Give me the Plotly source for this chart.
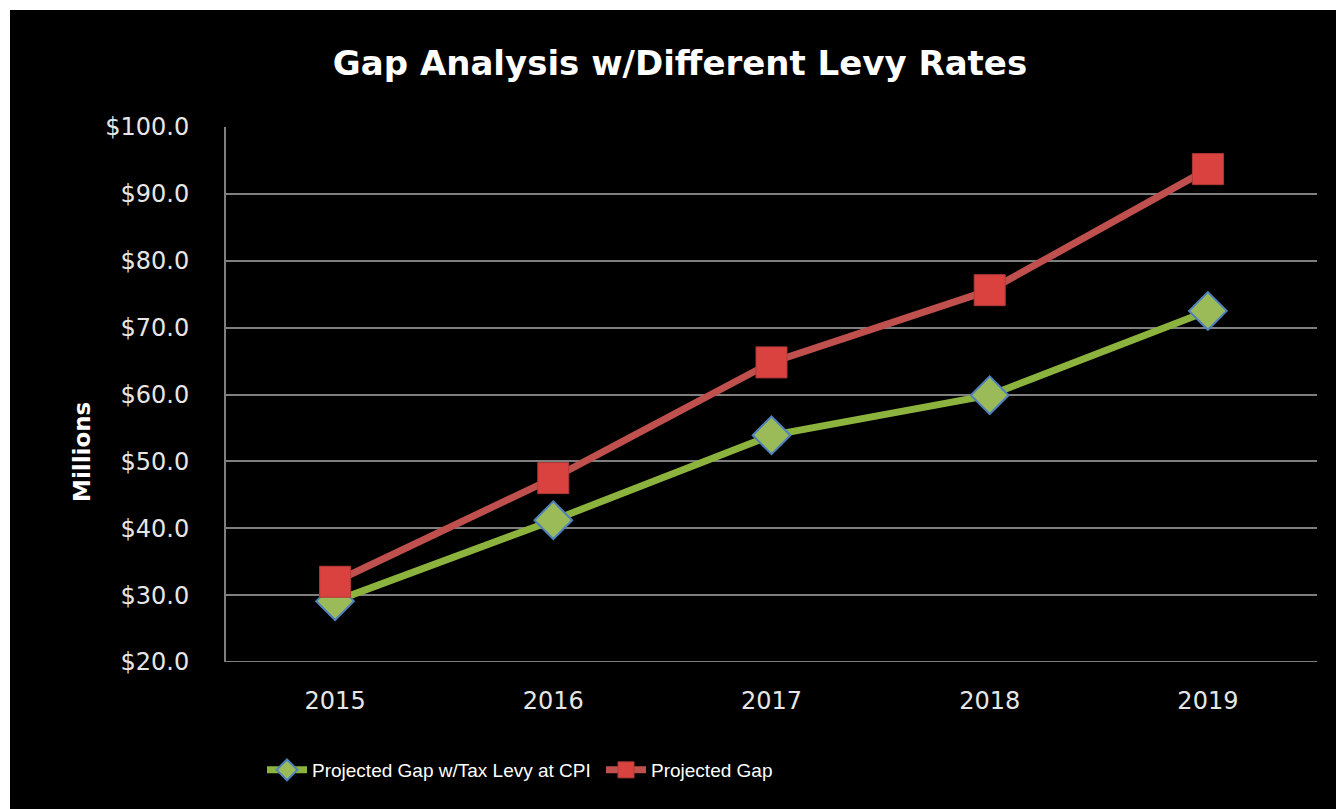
import plotly.graph_objects as go

years = ["2015", "2016", "2017", "2018", "2019"]
gap_cpi = [29.1, 41.2, 53.9, 59.9, 72.5]
gap = [32.0, 47.5, 64.8, 75.6, 93.7]
tick_vals = [20, 30, 40, 50, 60, 70, 80, 90, 100]
tick_text = ["$%.1f" % v for v in tick_vals]

PW, PH = 1336, 809
W, H = PW, PH
PL, PR, PT, PB = 226, 1317, 127, 662  # plot area in page pixels
L, R, T, B = PL, PW - PR, PT, PH - PB
pw, ph = PR - PL, PB - PT


def px2x(p):
    return (p - PL) / pw


def py2y(p):
    return (PB - p) / ph


fig = go.Figure()
fig.add_trace(go.Scatter(
    x=years, y=gap_cpi, mode="lines+markers", name="Projected Gap w/Tax Levy at CPI",
    line=dict(color="#8DB33F", width=7),
    marker=dict(symbol="diamond", size=29, color="#9BBB59",
                line=dict(color="#4F81BD", width=2)),
))
fig.add_trace(go.Scatter(
    x=years, y=gap, mode="lines+markers", name="Projected Gap",
    line=dict(color="#C0504D", width=7),
    marker=dict(symbol="square", size=31, color="#D9423F",
                line=dict(color="#B03A37", width=1)),
))

fig.add_shape(type="rect", xref="paper", yref="paper",
              x0=px2x(10), x1=px2x(PW + 20), y0=py2y(PH + 20), y1=py2y(10),
              fillcolor="black", line=dict(width=0), layer="below")

fig.add_annotation(text="<b>Millions</b>", xref="paper", yref="paper",
                   x=px2x(82), y=py2y(452), xanchor="center", yanchor="middle",
                   textangle=-90, showarrow=False,
                   font=dict(family="DejaVu Sans", size=23, color="white"))

fig.update_layout(
    width=W, height=H,
    margin=dict(l=L, r=R, t=T, b=B),
    paper_bgcolor="white", plot_bgcolor="rgba(0,0,0,0)",
    title=dict(text="<b>Gap Analysis w/Different Levy Rates</b>",
               font=dict(family="DejaVu Sans", size=34, color="white"),
               x=680 / W, xanchor="center", y=1 - 63 / H, yanchor="middle"),
    showlegend=True,
    legend=dict(orientation="h", x=px2x(262), xanchor="left", y=py2y(770), yanchor="middle",
                font=dict(family="Liberation Sans", size=19, color="white"),
                bgcolor="rgba(0,0,0,0)", itemwidth=40, traceorder="normal",
                entrywidth=284),
    xaxis=dict(showgrid=False, showline=False, ticks="",
               tickfont=dict(family="DejaVu Sans", size=24, color="#E6E6E6"),
               ticklabelstandoff=22, range=[-0.5, 4.5]),
    yaxis=dict(range=[20, 100], tickvals=tick_vals, ticktext=tick_text,
               showgrid=True, gridcolor="#7F7F7F", gridwidth=2,
               showline=True, linecolor="#7F7F7F", linewidth=2,
               zeroline=False, ticks="",
               tickfont=dict(family="DejaVu Sans", size=24, color="#E6E6E6"),
               ticklabelstandoff=30),
)
fig.add_hline(y=20, line=dict(color="#7F7F7F", width=2))

fig.write_html(
    "out.html",
    config={"displayModeBar": False},
    post_script="document.body.style.margin='0';document.body.style.overflow='hidden';",
)
